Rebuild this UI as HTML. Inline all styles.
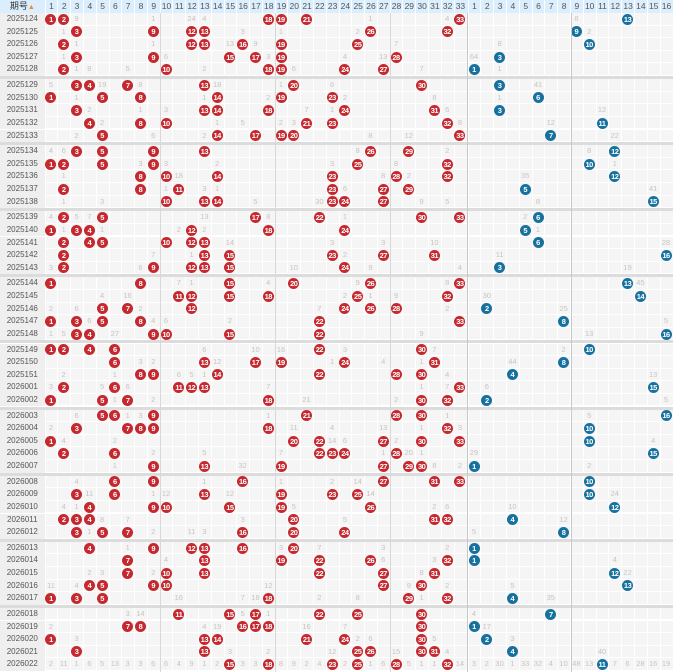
<!DOCTYPE html>
<html><head><meta charset="utf-8">
<style>
html,body{margin:0;padding:0;background:#fff;}
#chart{position:relative;width:687px;height:672px;overflow:hidden;font-family:"Liberation Sans","Noto Sans CJK SC",sans-serif;}
.hdr{position:absolute;left:0;top:0;width:673px;height:13px;background:#dbeefd;}
.hc{position:absolute;top:0;height:13px;line-height:13px;font-size:8.5px;color:#555;text-align:center;}
.row{position:absolute;left:0;width:673px;height:12.6px;background:#f5f5f5;border-bottom:1px solid #fff;box-sizing:border-box;}
.lab{position:absolute;left:0;top:0;width:44.6px;height:12.6px;line-height:12px;font-size:8px;color:#555;text-align:center;background:#efefef;}
.g{position:absolute;height:12.6px;line-height:12.6px;font-size:7.5px;color:#c9c3c3;text-align:center;}
.b{position:absolute;width:11px;height:11px;border-radius:50%;color:#fff;font-size:7.5px;font-weight:bold;line-height:11px;text-align:center;letter-spacing:-0.5px;}
.red{background:#c5282e;}
.blue{background:#17719f;}
.vl{position:absolute;top:0;width:1px;background:#fff;}
.dv{position:absolute;top:13px;width:1px;height:659px;background:#d8d8d8;}
.sep{position:absolute;left:0;width:673px;height:3.1px;background:#dcdcdc;}
</style></head><body>
<div id="chart"></div>
<script>
const periods=["2025124","2025125","2025126","2025127","2025128","2025129","2025130","2025131","2025132","2025133","2025134","2025135","2025136","2025137","2025138","2025139","2025140","2025141","2025142","2025143","2025144","2025145","2025146","2025147","2025148","2025149","2025150","2025151","2026001","2026002","2026003","2026004","2026005","2026006","2026007","2026008","2026009","2026010","2026011","2026012","2026013","2026014","2026015","2026016","2026017","2026018","2026019","2026020","2026021","2026022"];
const redBalls=[[1,2,18,19,21,33],[3,9,12,13,26,32],[2,12,13,16,19,25],[3,9,15,17,19,28],[2,10,18,19,24,27],
[3,4,7,13,20,30],[1,5,8,14,19,23],[3,13,14,18,24,31],[4,8,10,21,23,32],[5,14,17,19,20,33],
[3,5,9,13,26,29],[1,2,5,9,25,32],[8,10,14,23,28,32],[2,8,11,23,27,29],[10,13,14,23,24,27],
[2,5,17,22,30,33],[1,3,4,12,18,24],[2,4,5,10,12,13],[2,13,15,23,27,31],[2,9,12,13,15,24],
[1,8,15,20,26,33],[11,12,15,18,25,32],[5,7,12,24,26,28],[1,3,5,8,22,33],[3,4,9,10,15,22],
[1,2,4,6,22,30],[6,13,17,19,24,31],[8,9,14,22,28,30],[2,6,11,12,13,33],[1,5,7,18,30,32],
[5,6,9,21,28,30],[3,7,8,9,18,32],[1,20,22,27,30,33],[2,6,22,23,24,28],[9,13,19,27,29,30],
[6,9,16,27,31,33],[3,6,13,19,23,25],[4,9,10,15,19,26],[2,3,4,20,31,32],[3,5,7,16,20,24],
[4,9,12,13,16,20],[7,13,19,22,26,32],[7,10,13,22,27,31],[4,5,9,10,27,30],[1,3,5,18,29,32],
[11,15,17,22,25,30],[7,8,16,17,18,30],[1,13,14,21,24,30],[3,13,25,26,30,31],[15,18,23,25,28,32]];
const blueBalls=[13,9,10,3,1,3,6,3,11,7,12,10,12,5,15,6,5,6,16,3,13,14,2,8,16,10,8,4,15,2,16,10,10,15,1,10,10,12,4,8,1,1,12,13,4,7,1,2,4,11];
const redMiss=["3:9,9:1,12:24,13:4,26:1,32:4","2:1,16:3,19:1,25:2","3:1,9:1,15:13,17:9,28:7","2:1,10:6,18:3,24:4,27:13","3:1,4:8,7:5,13:2,20:6,30:7",
"1:5,5:19,8:8,14:18,19:1,23:6","3:1,13:1,18:2,24:2,31:8","4:2,8:1,10:3,21:7,23:1,32:6","5:2,14:1,16:5,19:2,20:3,33:8","3:2,9:6,13:2,26:8,29:12",
"1:4,2:6,25:8,32:2","8:3,10:3,14:2,23:3,28:8","2:1,11:18,27:8,29:2","10:1,13:3,14:1,24:6","2:1,5:3,17:5,22:30,30:9,32:5",
"1:4,3:5,4:7,13:13,18:8,24:1","2:1,5:1,11:2,13:2","15:14,23:3,27:3,31:10","9:7,12:1,24:2","1:3,8:6,20:10,26:9,33:4",
"11:7,12:1,18:4,25:9,32:8","5:4,7:16,24:2,26:1,28:9","1:2,3:6,8:2,22:7,32:2","4:6,9:4,10:6,15:2","1:1,2:5,6:27,30:9",
"13:6,17:10,19:16,24:3,31:7","8:3,9:2,14:12,23:1,27:4,30:1","2:2,6:1,11:6,12:5,13:1,32:4","1:3,5:5,7:6,18:7,30:1,32:7","6:1,9:2,21:21,28:2",
"3:6,7:1,8:3,18:1,32:1","1:2,20:11,23:4,27:13,30:1,33:3","2:4,6:2,23:14,24:6,28:2","9:2,13:5,19:7,27:1,29:20,30:1","6:1,16:32,31:8,33:2",
"3:4,13:1,19:1,23:2,25:14","4:11,9:1,10:12,15:12,26:14","2:4,3:1,20:5,31:2,32:6","5:8,7:7,16:3,24:5","4:1,9:2,12:11,13:3",
"7:1,19:3,22:7,27:3,32:2","10:4,27:6,31:3","4:2,5:3,9:2,30:8","1:11,3:4,18:12,29:9,32:2","11:16,16:7,17:18,22:2,25:8,30:1",
"7:3,8:14,16:5,18:1","1:2,13:4,14:19,21:16,24:7","3:3,25:2,26:6,31:5","15:3,18:2,23:12,28:15,32:4",
"1:2,2:11,3:1,4:6,5:5,6:13,7:3,8:3,9:6,10:6,11:4,12:9,13:1,14:2,16:3,17:3,19:8,20:9,21:2,22:4,24:2,26:1,27:6,29:5,30:1,31:1,33:14"];
const blueMiss=["9:8","10:2","3:8","1:64","3:1","6:41","3:1","11:12","7:12","12:22","10:8","12:1","5:35","15:41","6:8","5:2","6:1","16:28","3:11","13:19","14:45","2:30","8:25","16:5","10:13","8:2","4:44","15:13","2:6","16:5","10:5","","15:4","1:29","10:2","","12:24","4:10","8:12","1:5","","12:4","13:22","4:5","7:35","1:4","2:17","4:3","11:40","1:3,2:2,3:30,4:1,5:33,6:32,7:4,8:10,9:48,10:13,12:7,13:6,14:28,15:16,16:19"];

const chart=document.getElementById('chart');
const RX0=44.6,RW=12.78,BX0=467.6,BW=12.8,HH=13,RH=12.6,GS=3.1;
function rx(n){return RX0+(n-1)*RW;}
function bx(n){return BX0+(n-1)*BW;}
function ry(i){return HH+Math.floor(i/5)*(5*RH+GS)+(i%5)*RH;}

const hdr=document.createElement('div');
hdr.className='hdr';


chart.appendChild(hdr);
const ph=document.createElement('div');
ph.className='hc';ph.style.left='0px';ph.style.width='44.6px';ph.style.fontSize='9px';ph.style.color='#333';
ph.innerHTML='期号<span style="color:#f08a24;font-size:7px">&#9650;</span>';


hdr.appendChild(ph);
for(let n=1;n<=33;n++){const c=document.createElement('div');c.className='hc';c.style.left=rx(n)+'px';c.style.width=RW+'px';c.style.borderLeft='1px solid #fff';c.style.boxSizing='border-box';c.textContent=n;


hdr.appendChild(c);}
for(let n=1;n<=16;n++){const c=document.createElement('div');c.className='hc';c.style.left=bx(n)+'px';c.style.width=BW+'px';c.style.borderLeft='1px solid #fff';c.style.boxSizing='border-box';c.textContent=n;


hdr.appendChild(c);}

function parseMiss(s){if(!s)return[];return s.split(',').map(p=>p.split(':').map(Number));}

periods.forEach((p,i)=>{
  const y=ry(i);
  if(i%5===0&&i>0){const s=document.createElement('div');s.className='sep';s.style.top=(y-GS)+'px';
    
    
    chart.appendChild(s);}
  const r=document.createElement('div');r.className='row';r.style.top=y+'px';
  
  
  chart.appendChild(r);
  for(let n=1;n<=33;n++){const v=document.createElement('div');v.className='vl';v.style.left=rx(n)+'px';v.style.height=RH+'px';r.appendChild(v);}
  for(let n=1;n<=16;n++){const v=document.createElement('div');v.className='vl';v.style.left=bx(n)+'px';v.style.height=RH+'px';r.appendChild(v);}
  const l=document.createElement('div');l.className='lab';l.textContent=p;
  
  
  r.appendChild(l);
  parseMiss(redMiss[i]).forEach(([c,val])=>{const g=document.createElement('div');g.className='g';g.style.left=rx(c)+'px';g.style.width=RW+'px';g.textContent=val;
    
    
    r.appendChild(g);});
  parseMiss(blueMiss[i]).forEach(([c,val])=>{const g=document.createElement('div');g.className='g';g.style.left=bx(c)+'px';g.style.width=BW+'px';g.textContent=val;
    
    
    r.appendChild(g);});
  redBalls[i].forEach(n=>{const b=document.createElement('div');b.className='b red';b.style.left=(rx(n)+RW/2-5.5)+'px';b.style.top='0.8px';b.textContent=n;
    
    
    r.appendChild(b);});
  const bn=blueBalls[i];
  const b=document.createElement('div');b.className='b blue';b.style.left=(bx(bn)+BW/2-5.5)+'px';b.style.top='0.8px';b.textContent=bn;
  
  
  r.appendChild(b);
});
[160,275,390].forEach(x=>{const d=document.createElement('div');d.className='dv';d.style.left=x+'px';
  
  
  chart.appendChild(d);});
[467,571].forEach(x=>{const d=document.createElement('div');d.className='dv';d.style.left=x+'px';d.style.background='#c8c8c8';
  
  
  chart.appendChild(d);});
</script>
</body></html>
